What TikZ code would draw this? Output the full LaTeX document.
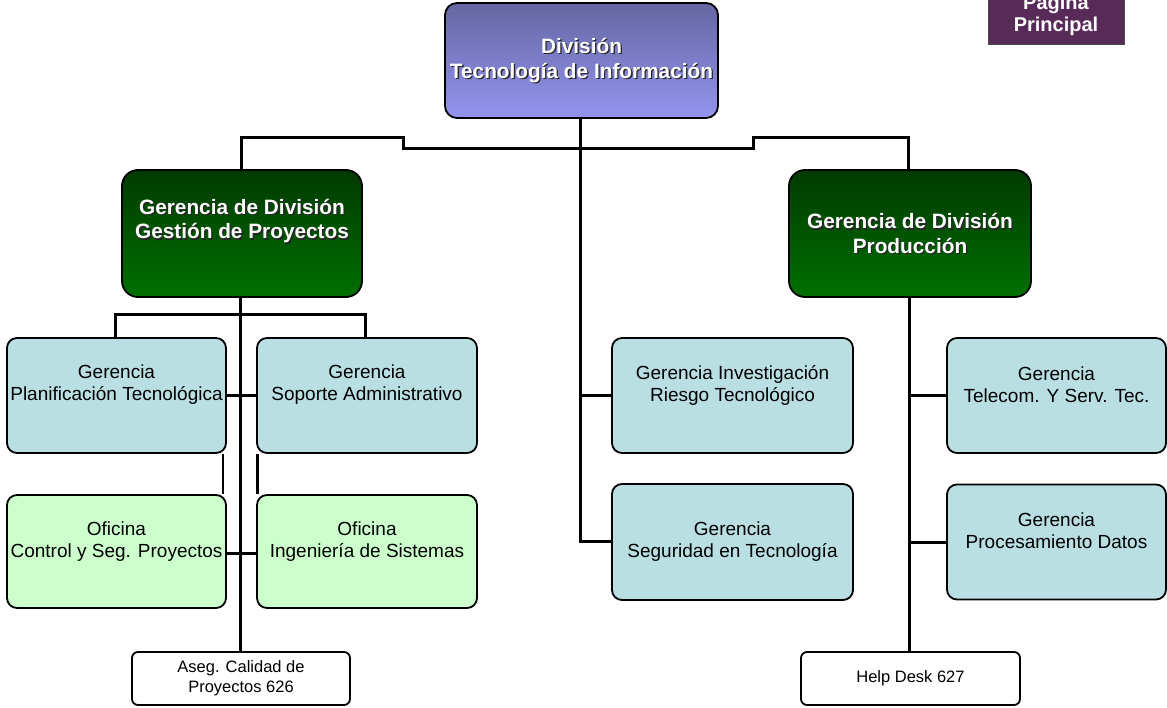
\documentclass[tikz,border=0pt]{standalone}
\usepackage{fontspec}
\setmainfont{Liberation Sans}
\definecolor{divtop}{RGB}{102,102,162}
\definecolor{divbot}{RGB}{148,148,240}
\definecolor{gertop}{RGB}{0,58,0}
\definecolor{gerbot}{RGB}{0,112,0}
\definecolor{gerblue}{RGB}{186,223,227}
\definecolor{ofigreen}{RGB}{204,255,204}
\definecolor{btnpurple}{RGB}{88,42,88}
\begin{document}
\begin{tikzpicture}[x=1pt,y=-1pt,
  box/.style={draw=black, line width=1.8pt, inner sep=0pt},
  divbox/.style={box, rounded corners=12pt, top color=divtop, bottom color=divbot,
    minimum width=273pt, minimum height=115pt},
  headbox/.style={box, rounded corners=16pt, top color=gertop, bottom color=gerbot,
    minimum width=240pt, minimum height=127pt},
  unitbox/.style={box, rounded corners=10pt, fill=gerblue, minimum height=115pt},
  officebox/.style={box, rounded corners=10pt, fill=ofigreen, minimum height=113pt},
  smallbox/.style={box, rounded corners=6pt, fill=white, minimum width=218pt, minimum height=53pt},
  plain/.style={font=\fontsize{19}{22}\selectfont, align=center, inner sep=0pt},
  small/.style={font=\fontsize{16.5}{20}\selectfont, align=center, inner sep=0pt},
  boldtxt/.style={font=\bfseries\fontsize{20.8}{24.5}\selectfont, align=center, inner sep=0pt, text=white},
  shadowtxt/.style={boldtxt, text=black!85},
  link/.style={draw=black, line width=3pt}
]
\useasboundingbox (0,0) rectangle (1167,708);

% --- boxes ---
\node[divbox] (div) at (581.5,60.5) {};
\node[headbox] (gp) at (242,233.5) {};
\node[headbox, minimum width=242pt] (prod) at (910,233.5) {};

\node[unitbox, minimum width=219pt] (plan) at (116.5,395.5) {};
\node[unitbox, minimum width=220pt] (sop) at (367,395.5) {};
\node[officebox, minimum width=219pt] (ctrl) at (116.5,551.5) {};
\node[officebox, minimum width=220pt] (ing) at (367,551.5) {};
\node[unitbox, minimum width=241pt] (inv) at (732.5,395.5) {};
\node[unitbox, minimum width=241pt, minimum height=116pt] (seg) at (732.5,542) {};
\node[unitbox, minimum width=219pt] (tel) at (1056.5,395.5) {};
\node[unitbox, minimum width=219pt] (proc) at (1056.5,542) {};
\node[smallbox] (aseg) at (241,678.5) {};
\node[smallbox, minimum width=219pt] (help) at (910.5,678.5) {};

% --- connectors ---
\coordinate (busL) at (241,138);
\coordinate (busR) at (908,138);
\draw[link] (gp.north -| busL) |- (403,138) |- (753,149) |- (busR) -- (prod.north -| busR);
\draw[link] (div.south -| 580,0) -- (580,541) -- (seg.west |- 580,541);
\draw[link] (580,395.5) -- (inv.west);

\draw[link] (gp.south -| 240,0) -- (aseg.north -| 240,0);
\draw[link] (plan.north -| 115,0) |- (365,315) -- (sop.north -| 365,0);
\draw[link] (plan.east) -- (sop.west);
\draw[link] (ctrl.east |- 0,553) -- (ing.west |- 0,553);
\draw[link, line width=2.5pt] (plan.south -| 223,0) -- (ctrl.north -| 223,0);
\draw[link, line width=2.5pt] (sop.south -| 257.5,0) -- (ing.north -| 257.5,0);

\draw[link] (prod.south -| 909,0) -- (help.north -| 909,0);
\draw[link] (tel.west -| 909,0) -- (tel.west);
\draw[link] (proc.west -| 909,0) -- (proc.west);

% --- labels ---
\foreach \n/\p/\t in {
  div/0/{División\\Tecnología de Información},
  prod/0/{Gerencia de División\\Producción},
  gp/12.5/{Gerencia de División\\Gestión de Proyectos}}{
  \node[shadowtxt] at ([shift={(1.3pt,-1.3pt)}, yshift=\p pt]\n.center) {\t};
  \node[boldtxt] (\n-label) at ([yshift=\p pt]\n.center) {\t};
}

\node[plain] (plan-label) at ([yshift=10.5pt]plan.center) {Gerencia\\Planificación Tecnológica};
\node[plain] (sop-label) at ([yshift=10.5pt]sop.center) {Gerencia\\Soporte Administrativo};
\node[plain] (ctrl-label) at ([yshift=9.5pt]ctrl.center) {Oficina\\Control y Seg. Proyectos};
\node[plain] (ing-label) at ([yshift=9.5pt]ing.center) {Oficina\\Ingeniería de Sistemas};
\node[plain] (inv-label) at ([yshift=10.5pt]inv.center) {Gerencia Investigación\\Riesgo Tecnológico};
\node[plain] (seg-label) at (seg.center) {Gerencia\\Seguridad en Tecnología};
\node[plain] (tel-label) at ([yshift=10.5pt]tel.center) {Gerencia\\Telecom. Y Serv. Tec.};
\node[plain] (proc-label) at ([yshift=11pt]proc.center) {Gerencia\\Procesamiento Datos};
\node[small] (aseg-label) at (aseg.center) {Aseg. Calidad de\\Proyectos 626};
\node[small] (help-label) at (help.center) {Help Desk 627};

% --- home button ---
\node[draw=black!70, line width=1pt, fill=btnpurple, minimum width=136pt, minimum height=65pt, inner sep=0pt] (home) at (1056,12.5) {};
\node[boldtxt, font=\bfseries\fontsize{20}{22}\selectfont] (home-label) at ([yshift=-3pt]home.center) {Página\\Principal};
\end{tikzpicture}
\end{document}
